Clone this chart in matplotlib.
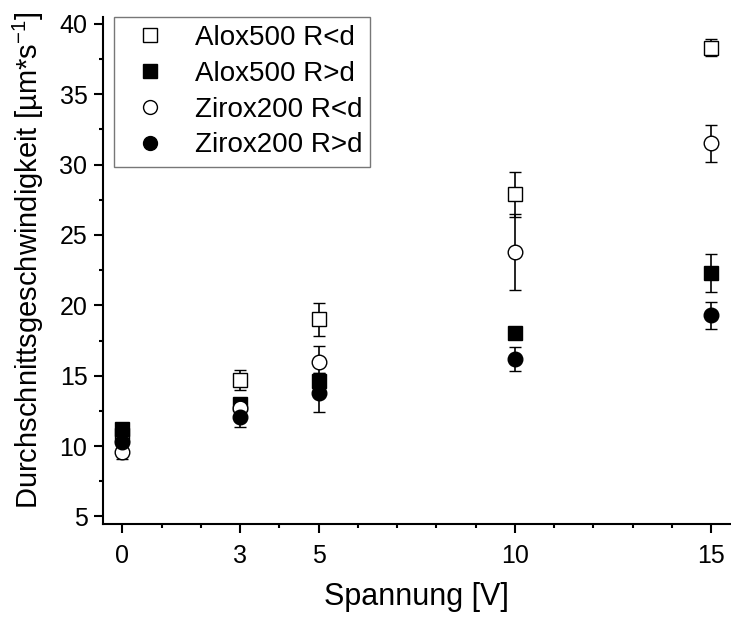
import matplotlib
matplotlib.use("Agg")
import matplotlib.pyplot as plt
from matplotlib.lines import Line2D
from matplotlib.ticker import MultipleLocator

plt.rcParams['font.family'] = ['Liberation Sans', 'DejaVu Sans']
plt.rcParams['mathtext.fontset'] = 'custom'
plt.rcParams['mathtext.rm'] = 'Liberation Sans'
plt.rcParams['mathtext.it'] = 'Liberation Sans'

voltage = [0, 3, 5, 10, 15]

alox_small = [10.8, 14.7, 19.0, 27.9, 38.3]
alox_small_err = [0.4, 0.7, 1.15, 1.6, 0.6]
alox_big = [11.2, 13.0, 14.6, 18.0, 22.3]
alox_big_err = [0.4, 0.3, 0.6, 0.3, 1.35]
zirox_small = [9.55, 12.7, 16.0, 23.8, 31.5]
zirox_small_err = [0.5, 0.5, 1.1, 2.7, 1.3]
zirox_big = [10.3, 12.05, 13.8, 16.2, 19.3]
zirox_big_err = [0.5, 0.7, 1.4, 0.85, 0.95]

labels = ["Alox500 R<d", "Alox500 R>d", "Zirox200 R<d", "Zirox200 R>d"]
series = [
    (alox_small, alox_small_err, 's', 'white'),
    (alox_big, alox_big_err, 's', 'black'),
    (zirox_small, zirox_small_err, 'o', 'white'),
    (zirox_big, zirox_big_err, 'o', 'black'),
]

fig = plt.figure(figsize=(7.31, 6.21), dpi=100)
ax = fig.add_axes([0.1405, 0.157, 0.859, 0.816])

handles = []
for (vals, errs, marker, face), lab in zip(series, labels):
    ax.errorbar(voltage, vals, yerr=errs, fmt=marker, ms=10.5, mfc=face,
                mec='black', mew=1.0, ecolor='black', elinewidth=1.2,
                capsize=4, capthick=1.2)
    handles.append(Line2D([], [], ls='none', marker=marker, ms=10,
                          mfc=face, mec='black', mew=1.0, label=lab))

ax.set_xlim(-0.5, 15.5)
ax.set_ylim(4.5, 40.5)
ax.set_xticks(voltage)
ax.xaxis.set_minor_locator(MultipleLocator(1))
ax.yaxis.set_major_locator(MultipleLocator(5))
ax.yaxis.set_minor_locator(MultipleLocator(2.5))

for side in ['top', 'right']:
    ax.spines[side].set_visible(False)
for side in ['left', 'bottom']:
    ax.spines[side].set_linewidth(1.5)

ax.tick_params(which='major', direction='out', length=6.5, width=1.5,
               labelsize=18)
ax.tick_params(which='minor', direction='out', length=3, width=1.5)
ax.tick_params(axis='x', which='major', pad=8)
ax.tick_params(axis='y', which='major', pad=4.5)

ax.set_xlabel("Spannung [V]", fontsize=22, labelpad=10)
ax.set_ylabel(r"Durchschnittsgeschwindigkeit [µm*s$^{-1}$]", fontsize=21)
ax.yaxis.set_label_coords(-0.09, 0.52)

leg = ax.legend(handles=handles, loc='upper left', bbox_to_anchor=(0.018, 1.0),
                borderaxespad=0, fontsize=20, frameon=True, fancybox=False,
                handletextpad=0.6, labelspacing=0.35, borderpad=0.3)
leg.get_frame().set_edgecolor('#555555')
leg.get_frame().set_linewidth(1.0)

fig.savefig("out.png", dpi=100)
